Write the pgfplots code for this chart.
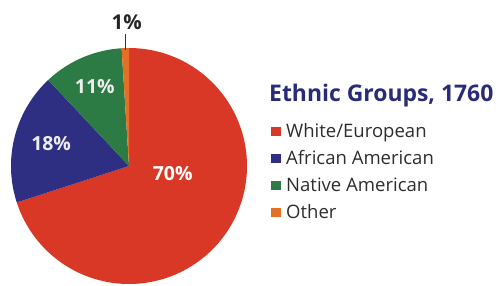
\documentclass[border=0pt]{standalone}
\usepackage{pgfplots}
\pgfplotsset{compat=1.18}
\usepackage{fontspec}
\setmainfont{Open Sans}
\definecolor{pRed}{RGB}{217,56,38}
\definecolor{pBlue}{RGB}{46,47,130}
\definecolor{pGreen}{RGB}{44,122,68}
\definecolor{pOrange}{RGB}{228,112,40}
\definecolor{ttl}{RGB}{42,43,118}
\definecolor{txt}{RGB}{45,45,45}
\begin{document}
\begin{tikzpicture}[x=1bp,y=1bp]
\useasboundingbox (0,0) rectangle (498,285);
\begin{axis}[
  at={(129bp,119bp)}, anchor=origin,
  scale only axis, width=236bp, height=236bp,
  xmin=-1, xmax=1, ymin=-1, ymax=1,
  hide axis, clip=false,
  legend cell align=left,
  legend style={
    at={(axis description cs:1.1017,0.685)}, anchor=north west,
    draw=none, fill=none, inner sep=0pt,
    font=\fontsize{18.6}{22}\selectfont\color{txt},
    nodes={inner sep=0pt, text height=15bp, text depth=12bp},
    column sep=5bp, row sep=0pt,
  },
]
% Shares (percent): White/European 70, African American 18, Native American 11, Other 1
% 1 percent = 3.6 degrees, slices run clockwise from the top (90 deg)
\addplot[fill=pRed, draw=none, data cs=polar, domain=-162:90, samples=181,
  legend image code/.code={\fill[pRed] (0bp,0.5bp) rectangle (10bp,9.5bp);}]
  ({x},{1}) -- (axis cs:0,0) -- cycle;
\addlegendentry{White/European}
\addplot[fill=pBlue, draw=none, data cs=polar, domain=133.2:198, samples=61,
  legend image code/.code={\fill[pBlue] (0bp,0.5bp) rectangle (10bp,9.5bp);}]
  ({x},{1}) -- (axis cs:0,0) -- cycle;
\addlegendentry{African American}
\addplot[fill=pGreen, draw=none, data cs=polar, domain=93.6:133.2, samples=41,
  legend image code/.code={\fill[pGreen] (0bp,0.5bp) rectangle (10bp,9.5bp);}]
  ({x},{1}) -- (axis cs:0,0) -- cycle;
\addlegendentry{Native American}
\addplot[fill=pOrange, draw=none, data cs=polar, domain=90:93.6, samples=7,
  legend image code/.code={\fill[pOrange] (0bp,0.5bp) rectangle (10bp,9.5bp);}]
  ({x},{1}) -- (axis cs:0,0) -- cycle;
\addlegendentry{Other}
% leader line for the 1% label
\addplot[forget plot, draw=black!80, line width=0.8pt] coordinates {(-0.03,0.985) (-0.03,1.12)};
\node[text=white, font=\fontsize{19.5}{22}\selectfont\bfseries] at (axis cs:0.37,-0.06) {70\%};
\node[text=white!93!black, font=\fontsize{19.5}{22}\selectfont\bfseries] at (axis cs:-0.66,0.19) {18\%};
\node[text=white!93!black, font=\fontsize{19.5}{22}\selectfont\bfseries] at (axis cs:-0.29,0.67) {11\%};
\node[text=black!85, font=\fontsize{20.5}{22}\selectfont\bfseries] at (axis cs:-0.02,1.215) {1\%};
\end{axis}
\node[anchor=base west, inner sep=0pt, text=ttl, font=\fontsize{23}{26}\selectfont\bfseries] at (269,184) {Ethnic Groups, 1760};
\end{tikzpicture}
\end{document}
